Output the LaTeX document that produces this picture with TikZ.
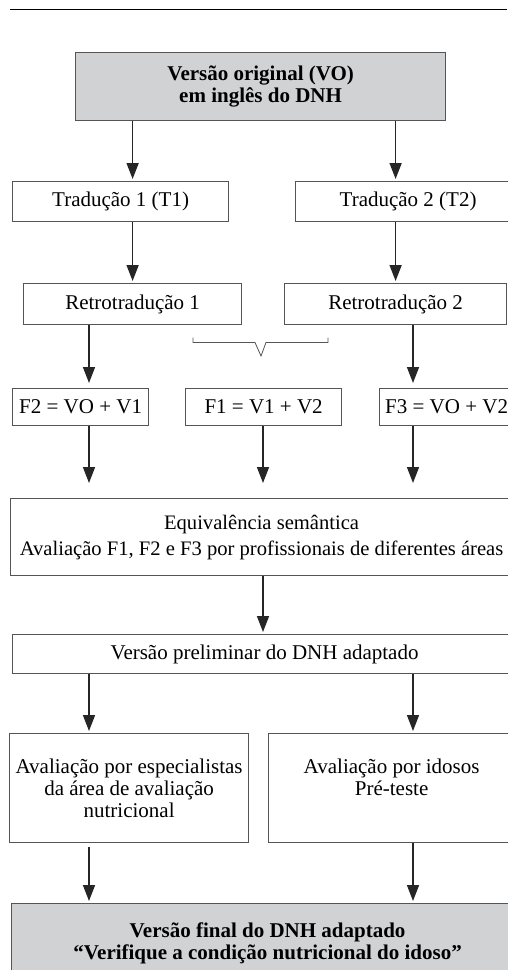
\documentclass[tikz,border=0pt]{standalone}
\usepackage{fontspec}
\setmainfont{Liberation Serif}
\usetikzlibrary{arrows.meta,positioning}
\definecolor{boxgrey}{HTML}{D1D2D4}
\definecolor{edgegrey}{HTML}{555555}

\begin{document}
\begin{tikzpicture}[x=1pt,y=-1pt,font=\fontsize{21}{22}\selectfont,
  box/.style={draw=edgegrey,line width=1.2pt,inner sep=0pt,align=center,anchor=north west},
  key/.style={box,fill=boxgrey,font=\fontsize{21}{22}\selectfont\bfseries},
  arr/.style={-{Triangle[width=12pt,length=16pt]},line width=1.6pt,black!85,shorten >=2pt}]
  \useasboundingbox (0,0) rectangle (507,970);
  \draw[line width=1pt] (10,9.5) -- (507,9.5);
  \node[key,minimum width=370pt,minimum height=68pt] (vo) at (75,52) {Versão original (VO)\\em inglês do DNH};
  \node[box,minimum width=216pt,minimum height=40pt] (t1) at (12,181) {Tradução 1 (T1)};
  \node[box,minimum width=225pt,minimum height=40pt] (t2) at (295,181) {Tradução 2 (T2)};
  \node[box,minimum width=218pt,minimum height=41pt] (r1) at (23,283) {Retrotradução 1};
  \node[box,minimum width=222pt,minimum height=41pt] (r2) at (284,283) {Retrotradução 2};
  \node[box,minimum width=136pt,minimum height=37pt] (f2) at (12,388) {F2 = VO + V1};
  \node[box,minimum width=156pt,minimum height=37pt] (f1) at (185,388) {F1 = V1 + V2};
  \node[box,minimum width=134pt,minimum height=37pt] (f3) at (379,388) {F3 = VO + V2};
  \node[box,minimum width=502pt,minimum height=77pt,font=\fontsize{20.6}{26}\selectfont] (eq) at (10,498) {Equivalência semântica\\Avaliação F1, F2 e F3 por profissionais de diferentes áreas};
  \node[box,minimum width=504pt,minimum height=39pt] (pre) at (12,634) {Versão preliminar do DNH adaptado};
  \node[box,minimum width=239pt,minimum height=109pt] (esp) at (9,733) {Avaliação por especialistas\\da área de avaliação\\nutricional};
  \node[box,minimum width=246pt,minimum height=109pt] (ido) at (268,733) {Avaliação por idosos\\Pré-teste\\~};
  \node[key,minimum width=512pt,minimum height=80pt] (fin) at (11,903) {Versão final do DNH adaptado\\“Verifique a condição nutricional do idoso”};
  % arrow columns
  \coordinate (colA) at (89,0);
  \coordinate (colB) at (263,0);
  \coordinate (colC) at (413,0);
  \draw[arr] (vo.south -| r1) -- (t1.north -| r1);
  \draw[arr] (vo.south -| r2) -- (t2.north -| r2);
  \draw[arr] (t1.south -| r1) -- (r1);
  \draw[arr] (t2.south -| r2) -- (r2);
  \draw[arr,shorten >=5pt] (r1.south -| colA) -- (f2.north -| colA);
  \draw[arr,shorten >=5pt] (r2.south -| colC) -- (f3.north -| colC);
  % brace under the back-translations
  \draw[edgegrey,line width=0.8pt] (193,337.5) -- (193,342.5) -- (255,342.5) -- (261,356) -- (266,342.5) -- (328,342.5) -- (328,337.5);
  \foreach \f/\c in {f2/colA,f1/colB,f3/colC}
    \draw[arr,shorten >=15pt] (\f.south -| \c) -- (eq.north -| \c);
  \draw[arr] (eq.south -| colB) -- (pre.north -| colB);
  \draw[arr] (pre.south -| colA) -- (esp.north -| colA);
  \draw[arr] (pre.south -| colC) -- (ido.north -| colC);
  \draw[arr,shorten <=4pt] (esp.south -| colA) -- (fin.north -| colA);
  \draw[arr] (ido.south -| colC) -- (fin.north -| colC);
\end{tikzpicture}
\end{document}
